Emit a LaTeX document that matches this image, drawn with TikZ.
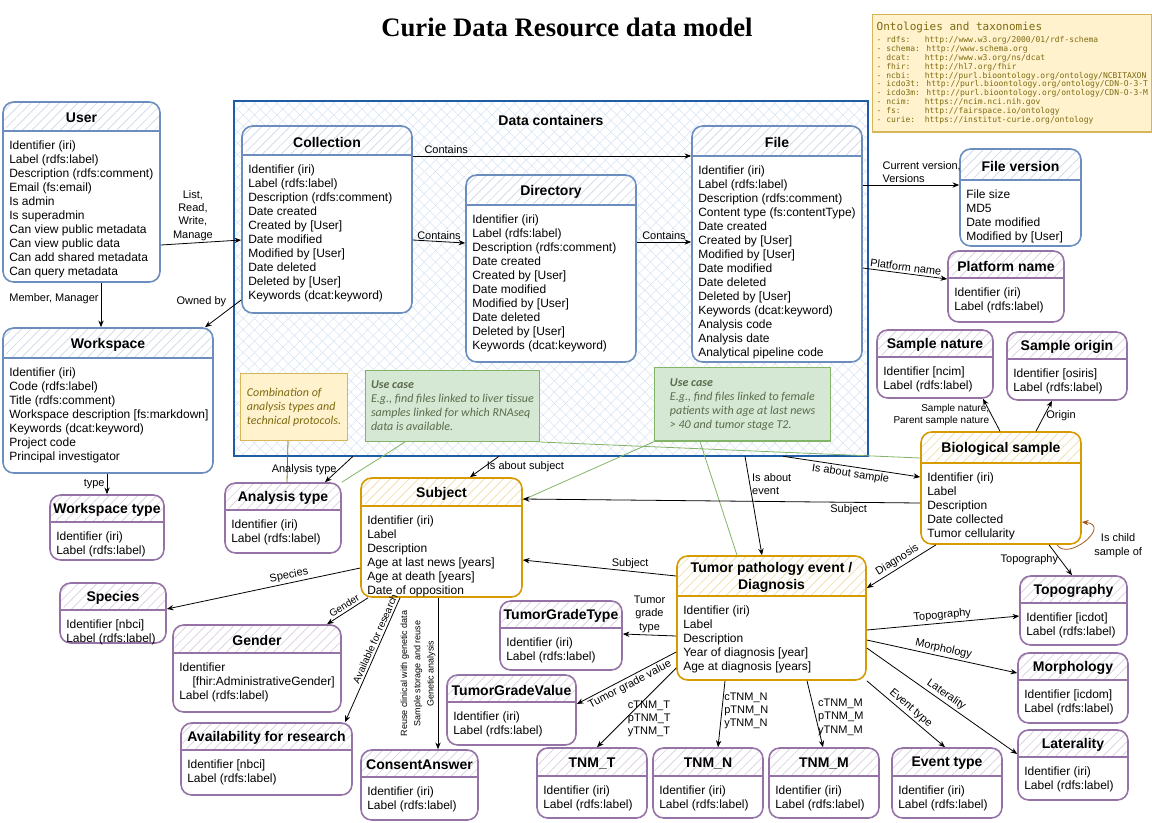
\documentclass[tikz,border=0pt]{standalone}
\usepackage{fontspec}
\setmainfont{Liberation Sans}
\newfontfamily\titlefont{Liberation Serif}
\newfontfamily\notefont{Carlito}
\newfontfamily\ontofont{DejaVu Sans Mono}
\usepackage{tikz}
\usetikzlibrary{positioning, arrows.meta, fit, patterns.meta}

\definecolor{blueline}{HTML}{6C8EBF}
\definecolor{purpleline}{HTML}{9673A6}
\definecolor{orangeline}{HTML}{D79B00}
\definecolor{containerline}{HTML}{1F5CA8}
\definecolor{containerhatch}{HTML}{D6E3F3}
\definecolor{noteyellow}{HTML}{FFF2CC}
\definecolor{noteyellowline}{HTML}{D6B656}
\definecolor{notegreen}{HTML}{D5E8D4}
\definecolor{notegreenline}{HTML}{82B366}
\definecolor{notetext}{HTML}{7D6B12}
\definecolor{usecasetext}{HTML}{5B6B4B}
\definecolor{loopline}{HTML}{A0581E}

% entity box: name, x, y, width, height, header height, colour, title, attributes
\newcommand{\entitybox}[9]{%
  \node[entity, draw=#7, fit={(#2,#3) ({#2+#4},{#3+#5})},
    path picture={
      \fill[pattern={Lines[angle=45,distance=5pt,line width=0.5pt]}, pattern color=#7!35]
        (path picture bounding box.north west) rectangle ++(#4,#6);
      \draw[#7, line width=1.2pt] (path picture bounding box.north west) ++(0,#6) -- ++(#4,0);
    }] (#1) {};
  \node[entitytitle] (#1-title) at ({#2+#4/2},{#3+#6/2+1.5}) {#8};
  \node[entitybody] (#1-body) at ({#2+6},{#3+#6+10}) {#9};
}

\begin{document}
\begin{tikzpicture}[
    x=0.75pt, y=-0.75pt,
    font=\fontsize{8.25}{10.5}\selectfont,
    entity/.style={rectangle, rounded corners=8pt, fill=white, line width=1.2pt, inner sep=0pt},
    entitytitle/.style={font=\fontsize{10.5}{12.5}\selectfont\bfseries, align=center, inner sep=0pt},
    entitybody/.style={anchor=north west, align=left, inner sep=0pt, font=\fontsize{9}{10.5}\selectfont},
    relation/.style={draw, line width=0.6pt, -{Stealth[length=5pt, width=4pt]}},
    textrelation/.style={font=\fontsize{8.25}{10}\selectfont, inner sep=1.5pt},
    smallrelation/.style={font=\fontsize{7.5}{9.5}\selectfont, inner sep=1.5pt},
    consentlabel/.style={font=\fontsize{6.75}{10}\selectfont, inner sep=1.5pt},
    note/.style={rectangle, line width=1pt, anchor=north west, align=left, inner sep=4pt,
      font=\notefont\itshape\fontsize{9}{10.5}\selectfont},
    ontology/.style={rectangle, anchor=north west, fill=noteyellow, draw=noteyellowline, line width=1pt,
      text=notetext, align=left, inner sep=3pt, font=\ontofont\fontsize{6}{6.7}\selectfont},
    link/.style={line width=0.6pt}
]
\useasboundingbox (0,0) rectangle (1152,822);

% Judul
\node[font=\titlefont\bfseries\fontsize{20}{23}\selectfont] (title) at (567,27) {Curie Data Resource data model};

% Ontologi
\node[ontology, minimum width=208pt, minimum height=88pt] (ontologies) at (872,14) {%
{\fontsize{8.25}{10}\selectfont Ontologies and taxonomies}\\[2pt]
- rdfs:\ \ \ http://www.w3.org/2000/01/rdf-schema\\
- schema: http://www.schema.org\\
- dcat:\ \ \ http://www.w3.org/ns/dcat\\
- fhir:\ \ \ http://hl7.org/fhir\\
- ncbi:\ \ \ http://purl.bioontology.org/ontology/NCBITAXON\\
- icdo3t: http://purl.bioontology.org/ontology/CDN-O-3-T\\
- icdo3m: http://purl.bioontology.org/ontology/CDN-O-3-M\\
- ncim:\ \ \ https://ncim.nci.nih.gov\\
- fs:\ \ \ \ \ http://fairspace.io/ontology\\
- curie:\ \ https://institut-curie.org/ontology};

% Data containers
\node[fit={(234,101) (868,456)}, inner sep=0pt, draw=containerline, line width=1.5pt,
  preaction={pattern={Lines[angle=45,distance=6pt,line width=0.4pt]}, pattern color=containerhatch},
  pattern={Lines[angle=-45,distance=6pt,line width=0.4pt]}, pattern color=containerhatch] (containers) {};
\node[font=\fontsize{10.5}{12.5}\selectfont\bfseries] (containerstitle) at (551,120) {Data containers};

% Kelas
\entitybox{user}{3}{102}{157}{180}{29}{blueline}{User}{Identifier (iri)\\Label (rdfs:label)\\Description (rdfs:comment)\\Email (fs:email)\\Is admin\\Is superadmin\\Can view public metadata\\Can view public data\\Can add shared metadata\\Can query metadata}
\entitybox{workspace}{3}{328}{210}{145}{30}{blueline}{Workspace}{Identifier (iri)\\Code (rdfs:label)\\Title (rdfs:comment)\\Workspace description [fs:markdown]\\Keywords (dcat:keyword)\\Project code\\Principal investigator}
\entitybox{wstype}{50}{495}{114}{65}{27}{purpleline}{Workspace type}{Identifier (iri)\\Label (rdfs:label)}
\entitybox{collection}{242}{126}{170}{187}{29}{blueline}{Collection}{Identifier (iri)\\Label (rdfs:label)\\Description (rdfs:comment)\\Date created\\Created by [User]\\Date modified\\Modified by [User]\\Date deleted\\Deleted by [User]\\Keywords (dcat:keyword)}
\entitybox{directory}{466}{175}{170}{187}{30}{blueline}{Directory}{Identifier (iri)\\Label (rdfs:label)\\Description (rdfs:comment)\\Date created\\Created by [User]\\Date modified\\Modified by [User]\\Date deleted\\Deleted by [User]\\Keywords (dcat:keyword)}
\entitybox{file}{692}{126}{170}{236}{30}{blueline}{File}{Identifier (iri)\\Label (rdfs:label)\\Description (rdfs:comment)\\Content type (fs:contentType)\\Date created\\Created by [User]\\Modified by [User]\\Date modified\\Date deleted\\Deleted by [User]\\Keywords (dcat:keyword)\\Analysis code\\Analysis date\\Analytical pipeline code}
\entitybox{fileversion}{960}{149}{121}{97}{31}{blueline}{File version}{File size\\MD5\\Date modified\\Modified by [User]}
\entitybox{platform}{948}{251}{116}{71}{27}{purpleline}{Platform name}{Identifier (iri)\\Label (rdfs:label)}
\entitybox{samplenature}{877}{330}{116}{68}{27}{purpleline}{Sample nature}{Identifier [ncim]\\Label (rdfs:label)}
\entitybox{sampleorigin}{1007}{332}{120}{68}{27}{purpleline}{Sample origin}{Identifier [osiris]\\Label (rdfs:label)}
\entitybox{biosample}{921}{432}{160}{112}{31}{orangeline}{Biological sample}{Identifier (iri)\\Label\\Description\\Date collected\\Tumor cellularity}
\entitybox{analysistype}{225}{483}{116}{70}{27}{purpleline}{Analysis type}{Identifier (iri)\\Label (rdfs:label)}
\entitybox{subject}{361}{478}{161}{119}{28}{orangeline}{Subject}{Identifier (iri)\\Label\\Description\\Age at last news [years]\\Age at death [years]\\Date of opposition}
\entitybox{tumor}{677}{556}{189}{124}{40}{orangeline}{Tumor pathology event /\\Diagnosis}{Identifier (iri)\\Label\\Description\\Year of diagnosis [year]\\Age at diagnosis [years]}
\entitybox{species}{60}{583}{106}{60}{27}{purpleline}{Species}{Identifier [nbci]\\Label (rdfs:label)}
\entitybox{gender}{173}{625}{168}{87}{28}{purpleline}{Gender}{Identifier\\\hspace*{10pt}[fhir:AdministrativeGender]\\Label (rdfs:label)}
\entitybox{availability}{181}{723}{171}{72}{27}{purpleline}{Availability for research}{Identifier [nbci]\\Label (rdfs:label)}
\entitybox{consent}{361}{750}{117}{70}{27}{purpleline}{ConsentAnswer}{Identifier (iri)\\Label (rdfs:label)}
\entitybox{gradetype}{500}{601}{122}{69}{27}{purpleline}{TumorGradeType}{Identifier (iri)\\Label (rdfs:label)}
\entitybox{gradevalue}{447}{675}{129}{70}{27}{purpleline}{TumorGradeValue}{Identifier (iri)\\Label (rdfs:label)}
\entitybox{tnmt}{537}{748}{110}{70}{28}{purpleline}{TNM\_T}{Identifier (iri)\\Label (rdfs:label)}
\entitybox{tnmn}{653}{748}{110}{70}{28}{purpleline}{TNM\_N}{Identifier (iri)\\Label (rdfs:label)}
\entitybox{tnmm}{769}{748}{110}{70}{28}{purpleline}{TNM\_M}{Identifier (iri)\\Label (rdfs:label)}
\entitybox{eventtype}{892}{748}{110}{70}{28}{purpleline}{Event type}{Identifier (iri)\\Label (rdfs:label)}
\entitybox{topography}{1020}{576}{107}{69}{27}{purpleline}{Topography}{Identifier [icdot]\\Label (rdfs:label)}
\entitybox{morphology}{1018}{653}{110}{70}{27}{purpleline}{Morphology}{Identifier [icdom]\\Label (rdfs:label)}
\entitybox{laterality}{1018}{730}{110}{70}{27}{purpleline}{Laterality}{Identifier (iri)\\Label (rdfs:label)}

% Catatan
\node[note, fill=noteyellow, draw=noteyellowline, text=notetext, minimum width=80pt, minimum height=50pt] (protocolnote) at (240,373)
  {Combination of\\analysis types and\\technical protocols.};
\node[note, fill=notegreen, draw=notegreenline, text=usecasetext, minimum width=130pt, minimum height=53pt] (usecasesample) at (365,370)
  {\textbf{Use case}\\E.g., find files linked to liver tissue\\samples linked for which RNAseq\\data is available.};
\node[note, fill=notegreen, draw=notegreenline, text=usecasetext, minimum width=132pt, minimum height=55pt] (usecasepatient) at (654,367)
  {\textbf{Use case}\\E.g., find files linked to female\\patients with age at last news\\> 40 and tumor stage T2.};

\draw[link, notetext] (288,0 |- protocolnote.south) -- (287,0 |- analysistype.north);
\draw[link, notegreenline] (405,0 |- usecasesample.south) -- (analysistype.north east);
\draw[link, notegreenline] (usecasesample.south east) -- (biosample.west |- 0,458);
\draw[link, notegreenline] (usecasepatient.south west) -- (subject.east |- 0,500);
\draw[link, notegreenline] (700,0 |- usecasepatient.south) -- (737,0 |- tumor.north);

% Relasi
\draw[relation] (user.east |- 0,245) -- node[textrelation, pos=0.4, above, align=center] {List,\\Read,\\Write,\\Manage} (collection.west |- 0,240);
\draw[relation] (101,0 |- user.south) -- node[textrelation, pos=0.35, left] {Member, Manager} (101,0 |- workspace.north);
\draw[relation] (collection.west |- 0,300) -- node[textrelation, pos=0.35, above left] {Owned by} (205,0 |- workspace.north);
\draw[relation] (workspace.south -| wstype.north) -- node[textrelation, left] {type} (wstype.north);

\draw[relation] (collection.east |- 0,156) -- node[textrelation, pos=0.12, above] {Contains} (file.west |- 0,156);
\draw[relation] (collection.east |- 0,240) -- node[textrelation, above] {Contains} (directory.west |- 0,243);
\draw[relation] (directory.east |- 0,242) -- node[textrelation, above] {Contains} (file.west |- 0,242);
\draw[relation] (file.east |- 0,185) -- node[textrelation, pos=0.18, anchor=south west, align=left] {Current version,\\Versions} (fileversion.west |- 0,185);
\draw[relation] (file.east |- 0,268) -- node[textrelation, sloped, above] {Platform name} (platform.west |- 0,279);

\draw[relation] (353,0 |- containers.south) -- node[textrelation, left] {Analysis type} (325,0 |- analysistype.north);
\draw[relation] (499,0 |- containers.south) -- node[textrelation, right] {Is about subject} (470,0 |- subject.north);
\draw[relation] (745,0 |- containers.south) -- node[textrelation, pos=0.28, right, align=left] {Is about\\event} (762,0 |- tumor.north);
\draw[relation] (783,0 |- containers.south) -- node[textrelation, sloped, below] {Is about sample} (biosample.west |- 0,477);

\draw[relation] (biosample.west |- 0,503) -- node[textrelation, pos=0.18, below] {Subject} (subject.east |- 0,499);
\draw[relation] (1000,0 |- biosample.north) -- node[smallrelation, left, align=right] {Sample nature,\\Parent sample nature} (983,0 |- samplenature.south);
\draw[relation] (1036,0 |- biosample.north) -- node[textrelation, right] {Origin} (1052,0 |- sampleorigin.south);
\draw[relation, loopline] (1057,0 |- biosample.south) .. controls (1068,562) and (1112,525) .. node[textrelation, pos=0.7, anchor=north west, align=center, text=black] {Is child\\sample of} (biosample.east |- 0,522);
\draw[relation] (936,0 |- biosample.south) -- node[textrelation, sloped, above] {Diagnosis} (tumor.east |- 0,588);
\draw[relation] (1049,0 |- biosample.south) -- node[textrelation, left] {Topography} (1072,0 |- topography.north);

\draw[relation] (tumor.west |- 0,576) -- node[textrelation, pos=0.3, above] {Subject} (subject.east |- 0,560);
\draw[relation] (tumor.west |- 0,636) -- node[textrelation, above, align=center] {Tumor\\grade\\type} (gradetype.east |- 0,634);
\draw[relation] (tumor.west |- 0,652) -- node[textrelation, sloped, below] {Tumor grade value} (gradevalue.east |- 0,704);
\draw[relation] (tumor.west |- 0,668) -- node[textrelation, pos=0.64, right, align=left] {cTNM\_T\\pTNM\_T\\yTNM\_T} (597,0 |- tnmt.north);
\draw[relation] (725,0 |- tumor.south) -- node[textrelation, pos=0.45, right, align=left] {cTNM\_N\\pTNM\_N\\yTNM\_N} (718,0 |- tnmn.north);
\draw[relation] (807,0 |- tumor.south) -- node[textrelation, pos=0.55, right, align=left] {cTNM\_M\\pTNM\_M\\yTNM\_M} (823,0 |- tnmm.north);
\draw[relation] (tumor.south east) -- node[textrelation, sloped, above] {Event type} (945,0 |- eventtype.north);
\draw[relation] (tumor.east |- 0,648) -- node[textrelation, pos=0.5, sloped, above] {Laterality} (laterality.west |- 0,754);
\draw[relation] (tumor.east |- 0,640) -- node[textrelation, sloped, above] {Morphology} (morphology.west |- 0,673);
\draw[relation] (tumor.east |- 0,630) -- node[textrelation, sloped, above] {Topography} (topography.west |- 0,616);

\draw[relation] (subject.west |- 0,568) -- node[textrelation, pos=0.36, sloped, above] {Species} (species.east |- 0,609);
\draw[relation] (368,0 |- subject.south) -- node[smallrelation, sloped, above] {Gender} (327,0 |- gender.north);
\draw[relation] (400,0 |- subject.south) -- node[smallrelation, pos=0.35, sloped, above] {Available for research} (345,0 |- availability.north);
\draw[relation] (438,0 |- subject.south) -- node[consentlabel, midway, anchor=south, rotate=90, align=center] {Reuse clinical with genetic data\\Sample storage and reuse\\Genetic analysis} (438,0 |- consent.north);

\end{tikzpicture}
\end{document}
